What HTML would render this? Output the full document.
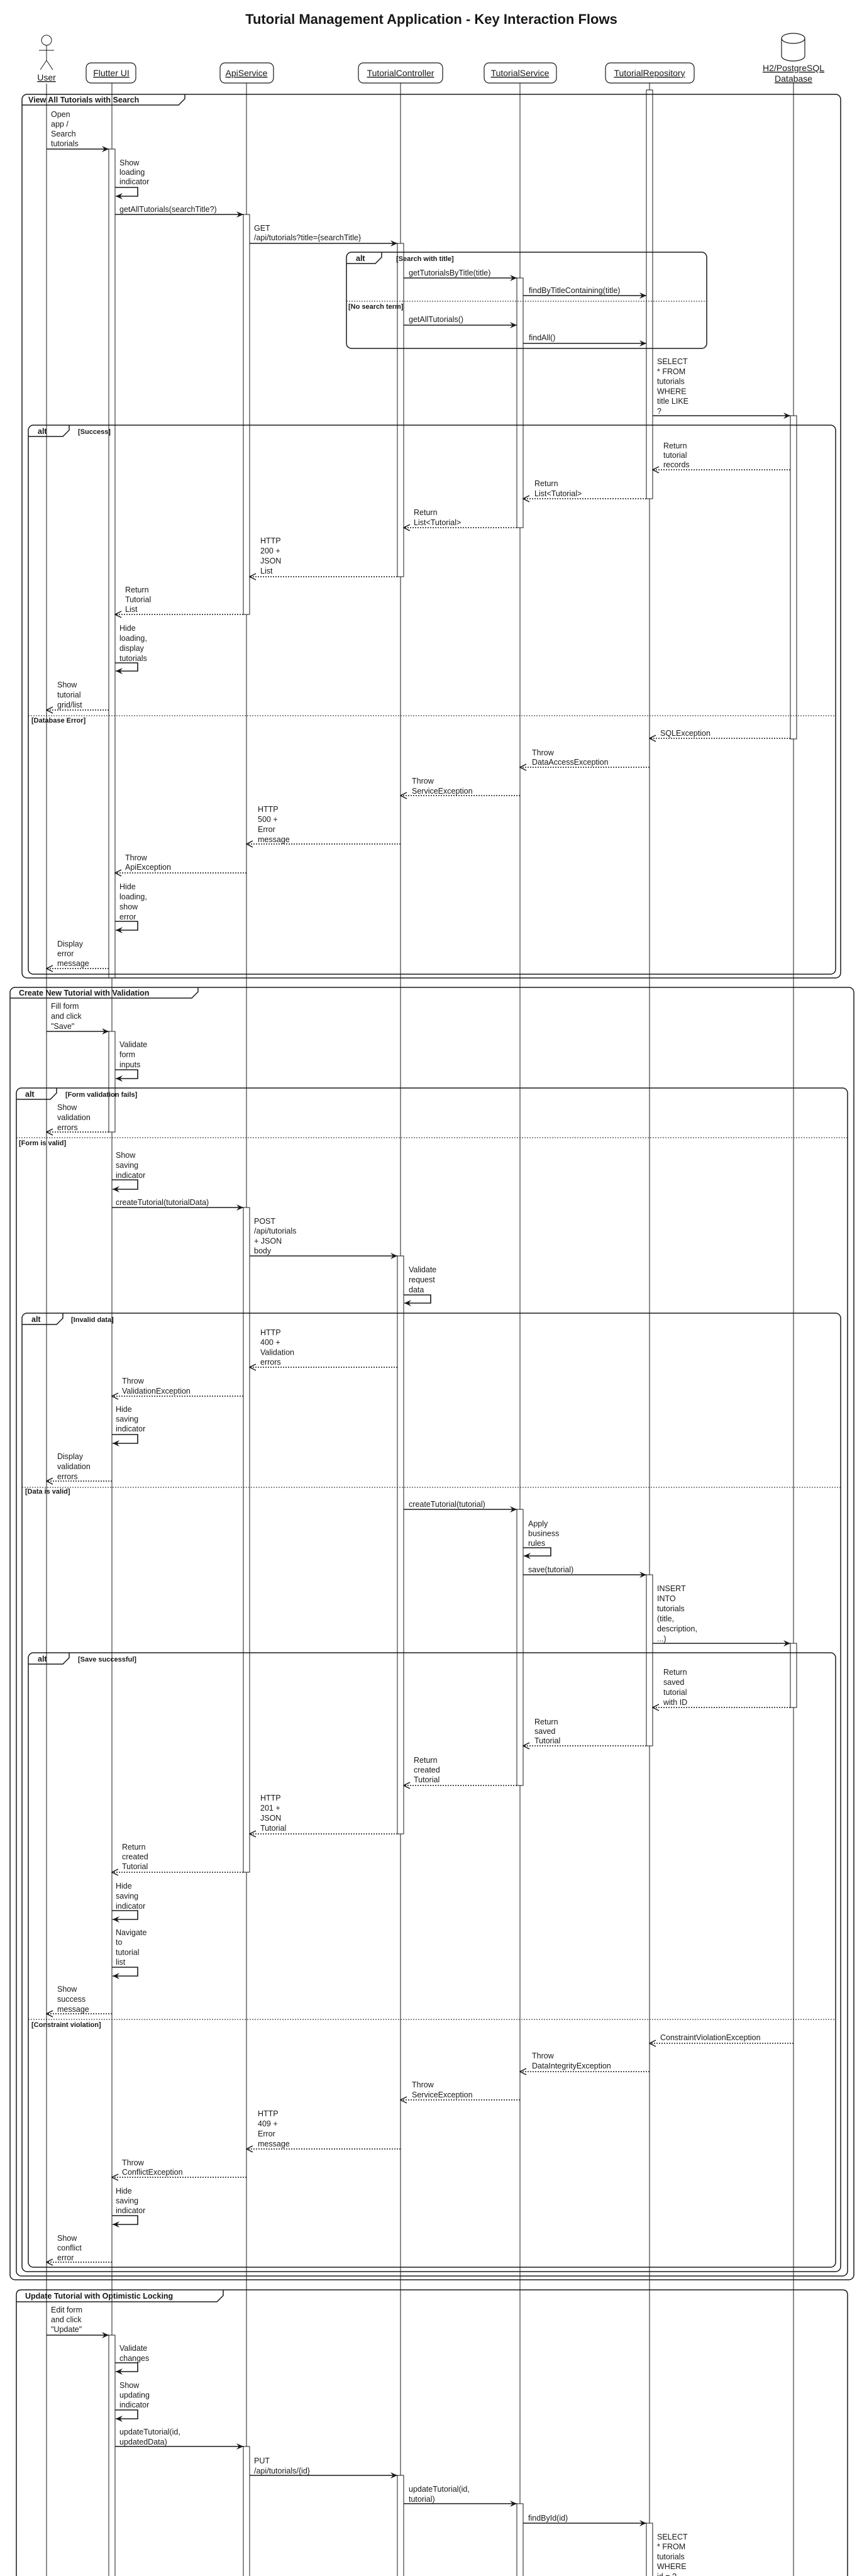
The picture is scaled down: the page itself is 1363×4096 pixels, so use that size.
<!DOCTYPE html>
<html><head><meta charset="utf-8">
<style>
html,body{margin:0;padding:0;background:#fff}
svg{display:block}
text{font-family:"Liberation Sans",sans-serif;font-size:12.5px;fill:#181818}
.t{font-size:22px;font-weight:bold}
.p{font-size:14px;text-decoration:underline}
.fb{font-size:12.5px;font-weight:bold}
.gl{font-size:11px;font-weight:bold}
.ll{stroke:#181818;stroke-width:1}
.act{fill:#fff;stroke:#181818;stroke-width:1}
.fr{fill:none;stroke:#181818;stroke-width:1.5}
.sep{stroke:#181818;stroke-width:1;stroke-dasharray:2,2}
.s{stroke:#181818;stroke-width:1.6;marker-end:url(#a)}
.d{stroke:#181818;stroke-width:1.4;stroke-dasharray:2,2;marker-end:url(#o)}
.lp{fill:none;stroke:#181818;stroke-width:1.6;marker-end:url(#a)}
</style></head><body>
<svg width="1363" height="4096" viewBox="0 0 1363 4096" xmlns="http://www.w3.org/2000/svg">
<defs>
<marker id="a" markerUnits="userSpaceOnUse" markerWidth="12" markerHeight="10" refX="11" refY="5" orient="auto"><path d="M0,0 L11,5 L0,10 L4,5 z" fill="#181818"/></marker>
<marker id="o" markerUnits="userSpaceOnUse" markerWidth="12" markerHeight="12" refX="11" refY="6" orient="auto"><path d="M1,1 L11,6 L1,11" fill="none" stroke="#181818" stroke-width="1.5"/></marker>
</defs>

<text class="t" x="686" y="38" text-anchor="middle">Tutorial Management Application - Key Interaction Flows</text>

<!-- lifelines -->
<line class="ll" x1="74" y1="133" x2="74" y2="4096"/>
<line class="ll" x1="178" y1="132" x2="178" y2="4096"/>
<line class="ll" x1="392" y1="132" x2="392" y2="4096"/>
<line class="ll" x1="637" y1="132" x2="637" y2="4096"/>
<line class="ll" x1="827" y1="132" x2="827" y2="4096"/>
<line class="ll" x1="1033" y1="132" x2="1033" y2="4096"/>
<line class="ll" x1="1262" y1="132" x2="1262" y2="4096"/>

<!-- participants -->
<circle cx="74" cy="64" r="8" fill="#fff" stroke="#181818"/>
<line class="ll" x1="74" y1="72" x2="74" y2="96"/>
<line class="ll" x1="62" y1="80" x2="86" y2="80"/>
<line class="ll" x1="74" y1="96" x2="64" y2="111"/>
<line class="ll" x1="74" y1="96" x2="84" y2="111"/>
<text class="p" x="74" y="128" text-anchor="middle">User</text>
<rect x="137" y="100" width="79" height="32" rx="8" fill="#fff" stroke="#181818" stroke-width="1.2"/>
<text class="p" x="177" y="121" text-anchor="middle">Flutter UI</text>
<rect x="350" y="100" width="85" height="32" rx="8" fill="#fff" stroke="#181818" stroke-width="1.2"/>
<text class="p" x="392" y="121" text-anchor="middle">ApiService</text>
<rect x="570" y="100" width="134" height="32" rx="8" fill="#fff" stroke="#181818" stroke-width="1.2"/>
<text class="p" x="637" y="121" text-anchor="middle">TutorialController</text>
<rect x="770" y="100" width="115" height="32" rx="8" fill="#fff" stroke="#181818" stroke-width="1.2"/>
<text class="p" x="827" y="121" text-anchor="middle">TutorialService</text>
<rect x="963" y="100" width="141" height="32" rx="8" fill="#fff" stroke="#181818" stroke-width="1.2"/>
<text class="p" x="1033" y="121" text-anchor="middle">TutorialRepository</text>
<path d="M1243,61 a18.5,8 0 0 1 37,0 V89 a18.5,8 0 0 1 -37,0 Z" fill="#fff" stroke="#181818" stroke-width="1.2"/>
<path d="M1243,61 a18.5,8 0 0 0 37,0" fill="none" stroke="#181818" stroke-width="1.2"/>
<text class="p" x="1262" y="113" text-anchor="middle">H2/PostgreSQL</text>
<text class="p" x="1262" y="130" text-anchor="middle">Database</text>

<!-- activations -->
<rect class="act" x="173" y="237" width="10" height="1318"/>
<rect class="act" x="173" y="1640" width="10" height="160"/>
<rect class="act" x="173" y="3713" width="10" height="400"/>
<rect class="act" x="387" y="341" width="10" height="636"/>
<rect class="act" x="387" y="1920" width="10" height="1057"/>
<rect class="act" x="387" y="3890" width="10" height="220"/>
<rect class="act" x="632" y="387" width="10" height="530"/>
<rect class="act" x="632" y="1997" width="10" height="919"/>
<rect class="act" x="632" y="3936" width="10" height="180"/>
<rect class="act" x="822" y="442" width="10" height="397"/>
<rect class="act" x="822" y="2400" width="10" height="439"/>
<rect class="act" x="822" y="3981" width="10" height="130"/>
<rect class="act" x="1028" y="143" width="10" height="650"/>
<rect class="act" x="1028" y="2504" width="10" height="272"/>
<rect class="act" x="1028" y="4012" width="10" height="100"/>
<rect class="act" x="1257" y="661" width="10" height="514"/>
<rect class="act" x="1257" y="2613" width="10" height="102"/>

<!-- FRAME 1 -->
<rect class="fr" x="35" y="150" width="1302" height="1405" rx="8"/>
<path class="fr" d="M35,167 H284 L294,157 V150"/>
<text class="fb" x="45" y="163">View All Tutorials with Search</text>

<text x="81" y="186"><tspan x="81">Open</tspan><tspan x="81" dy="15.5">app /</tspan><tspan x="81" dy="15.5">Search</tspan><tspan x="81" dy="15.5">tutorials</tspan></text>
<line class="s" x1="74" y1="237" x2="173" y2="237"/>
<text x="190" y="263"><tspan x="190">Show</tspan><tspan x="190" dy="15">loading</tspan><tspan x="190" dy="15">indicator</tspan></text>
<path class="lp" d="M183,298 H219 V312 H184"/>
<text x="190" y="337">getAllTutorials(searchTitle?)</text>
<line class="s" x1="183" y1="341" x2="387" y2="341"/>
<text x="404" y="367"><tspan x="404">GET</tspan><tspan x="404" dy="15">/api/tutorials?title={searchTitle}</tspan></text>
<line class="s" x1="397" y1="387" x2="632" y2="387"/>

<rect class="fr" x="551" y="401" width="573" height="153" rx="8"/>
<path class="fr" d="M551,419 H597 L607,409 V401"/>
<text class="fb" x="566" y="415">alt</text>
<text class="gl" x="630" y="415">[Search with title]</text>
<text x="650" y="438">getTutorialsByTitle(title)</text>
<line class="s" x1="642" y1="442" x2="822" y2="442"/>
<text x="841" y="466">findByTitleContaining(title)</text>
<line class="s" x1="832" y1="470" x2="1028" y2="470"/>
<line class="sep" x1="551" y1="479" x2="1124" y2="479"/>
<text class="gl" x="554" y="491">[No search term]</text>
<text x="650" y="512">getAllTutorials()</text>
<line class="s" x1="642" y1="517" x2="822" y2="517"/>
<text x="841" y="541">findAll()</text>
<line class="s" x1="832" y1="546" x2="1028" y2="546"/>

<text x="1045" y="579"><tspan x="1045">SELECT</tspan><tspan x="1045" dy="15.8">* FROM</tspan><tspan x="1045" dy="15.8">tutorials</tspan><tspan x="1045" dy="15.8">WHERE</tspan><tspan x="1045" dy="15.8">title LIKE</tspan><tspan x="1045" dy="15.8">?</tspan></text>
<line class="s" x1="1038" y1="661" x2="1257" y2="661"/>

<rect class="fr" x="45" y="676" width="1284" height="873" rx="8"/>
<path class="fr" d="M45,694 H100 L110,684 V676"/>
<text class="fb" x="60" y="690">alt</text>
<text class="gl" x="124" y="690">[Success]</text>

<text x="1055" y="713"><tspan x="1055">Return</tspan><tspan x="1055" dy="15">tutorial</tspan><tspan x="1055" dy="15">records</tspan></text>
<line class="d" x1="1257" y1="747" x2="1038" y2="747"/>
<text x="850" y="773"><tspan x="850">Return</tspan><tspan x="850" dy="16">List&lt;Tutorial&gt;</tspan></text>
<line class="d" x1="1028" y1="793" x2="832" y2="793"/>
<text x="658" y="819"><tspan x="658">Return</tspan><tspan x="658" dy="16">List&lt;Tutorial&gt;</tspan></text>
<line class="d" x1="822" y1="839" x2="642" y2="839"/>
<text x="414" y="864"><tspan x="414">HTTP</tspan><tspan x="414" dy="16">200 +</tspan><tspan x="414" dy="16">JSON</tspan><tspan x="414" dy="16">List</tspan></text>
<line class="d" x1="632" y1="917" x2="397" y2="917"/>
<text x="199" y="942"><tspan x="199">Return</tspan><tspan x="199" dy="15.5">Tutorial</tspan><tspan x="199" dy="15.5">List</tspan></text>
<line class="d" x1="387" y1="977" x2="183" y2="977"/>
<text x="190" y="1003"><tspan x="190">Hide</tspan><tspan x="190" dy="16">loading,</tspan><tspan x="190" dy="16">display</tspan><tspan x="190" dy="16">tutorials</tspan></text>
<path class="lp" d="M183,1054 H219 V1067 H184"/>
<text x="91" y="1093"><tspan x="91">Show</tspan><tspan x="91" dy="16">tutorial</tspan><tspan x="91" dy="16">grid/list</tspan></text>
<line class="d" x1="173" y1="1129" x2="74" y2="1129"/>
<line class="sep" x1="45" y1="1138" x2="1329" y2="1138"/>
<text class="gl" x="50" y="1149">[Database Error]</text>
<text x="1050" y="1170">SQLException</text>
<line class="d" x1="1257" y1="1174" x2="1033" y2="1174"/>
<text x="846" y="1201"><tspan x="846">Throw</tspan><tspan x="846" dy="15">DataAccessException</tspan></text>
<line class="d" x1="1033" y1="1220" x2="827" y2="1220"/>
<text x="655" y="1246"><tspan x="655">Throw</tspan><tspan x="655" dy="16">ServiceException</tspan></text>
<line class="d" x1="827" y1="1265" x2="637" y2="1265"/>
<text x="410" y="1291"><tspan x="410">HTTP</tspan><tspan x="410" dy="16">500 +</tspan><tspan x="410" dy="16">Error</tspan><tspan x="410" dy="16">message</tspan></text>
<line class="d" x1="637" y1="1342" x2="392" y2="1342"/>
<text x="199" y="1368"><tspan x="199">Throw</tspan><tspan x="199" dy="15">ApiException</tspan></text>
<line class="d" x1="392" y1="1388" x2="183" y2="1388"/>
<text x="190" y="1414"><tspan x="190">Hide</tspan><tspan x="190" dy="16">loading,</tspan><tspan x="190" dy="16">show</tspan><tspan x="190" dy="16">error</tspan></text>
<path class="lp" d="M183,1465 H219 V1479 H184"/>
<text x="91" y="1505"><tspan x="91">Display</tspan><tspan x="91" dy="15.5">error</tspan><tspan x="91" dy="15.5">message</tspan></text>
<line class="d" x1="173" y1="1540" x2="74" y2="1540"/>

<!-- FRAME 2 -->
<rect class="fr" x="16" y="1570" width="1342" height="2055" rx="8"/>
<path class="fr" d="M16,1587 H305 L315,1577 V1570"/>
<text class="fb" x="30" y="1583">Create New Tutorial with Validation</text>
<text x="81" y="1604"><tspan x="81">Fill form</tspan><tspan x="81" dy="16">and click</tspan><tspan x="81" dy="16">"Save"</tspan></text>
<line class="s" x1="74" y1="1640" x2="173" y2="1640"/>
<text x="190" y="1665"><tspan x="190">Validate</tspan><tspan x="190" dy="16">form</tspan><tspan x="190" dy="16">inputs</tspan></text>
<path class="lp" d="M183,1701 H219 V1715 H184"/>

<rect class="fr" x="26" y="1730" width="1322" height="1889" rx="8"/>
<path class="fr" d="M26,1748 H80 L90,1738 V1730"/>
<text class="fb" x="40" y="1744">alt</text>
<text class="gl" x="104" y="1744">[Form validation fails]</text>
<text x="91" y="1765"><tspan x="91">Show</tspan><tspan x="91" dy="16">validation</tspan><tspan x="91" dy="16">errors</tspan></text>
<line class="d" x1="173" y1="1800" x2="74" y2="1800"/>
<line class="sep" x1="26" y1="1809" x2="1348" y2="1809"/>
<text class="gl" x="30" y="1821">[Form is valid]</text>
<text x="184" y="1841"><tspan x="184">Show</tspan><tspan x="184" dy="16">saving</tspan><tspan x="184" dy="16">indicator</tspan></text>
<path class="lp" d="M178,1876 H219 V1891 H179"/>
<text x="184" y="1916">createTutorial(tutorialData)</text>
<line class="s" x1="178" y1="1920" x2="387" y2="1920"/>
<text x="404" y="1946"><tspan x="404">POST</tspan><tspan x="404" dy="15.7">/api/tutorials</tspan><tspan x="404" dy="15.7">+ JSON</tspan><tspan x="404" dy="15.7">body</tspan></text>
<line class="s" x1="397" y1="1997" x2="632" y2="1997"/>
<text x="650" y="2023"><tspan x="650">Validate</tspan><tspan x="650" dy="16">request</tspan><tspan x="650" dy="16">data</tspan></text>
<path class="lp" d="M642,2059 H685 V2072 H643"/>

<rect class="fr" x="35" y="2088" width="1302" height="1524" rx="8"/>
<path class="fr" d="M35,2106 H90 L100,2096 V2088"/>
<text class="fb" x="50" y="2102">alt</text>
<text class="gl" x="113" y="2102">[Invalid data]</text>
<text x="414" y="2123"><tspan x="414">HTTP</tspan><tspan x="414" dy="15.7">400 +</tspan><tspan x="414" dy="15.7">Validation</tspan><tspan x="414" dy="15.7">errors</tspan></text>
<line class="d" x1="632" y1="2174" x2="397" y2="2174"/>
<text x="194" y="2200"><tspan x="194">Throw</tspan><tspan x="194" dy="16">ValidationException</tspan></text>
<line class="d" x1="387" y1="2220" x2="178" y2="2220"/>
<text x="184" y="2245"><tspan x="184">Hide</tspan><tspan x="184" dy="15.5">saving</tspan><tspan x="184" dy="15.5">indicator</tspan></text>
<path class="lp" d="M178,2281 H219 V2295 H179"/>
<text x="91" y="2320"><tspan x="91">Display</tspan><tspan x="91" dy="16">validation</tspan><tspan x="91" dy="16">errors</tspan></text>
<line class="d" x1="178" y1="2355" x2="74" y2="2355"/>
<line class="sep" x1="35" y1="2365" x2="1337" y2="2365"/>
<text class="gl" x="40" y="2375">[Data is valid]</text>
<text x="650" y="2396">createTutorial(tutorial)</text>
<line class="s" x1="642" y1="2400" x2="822" y2="2400"/>
<text x="840" y="2427"><tspan x="840">Apply</tspan><tspan x="840" dy="15.5">business</tspan><tspan x="840" dy="15.5">rules</tspan></text>
<path class="lp" d="M832,2461 H876 V2474 H833"/>
<text x="840" y="2500">save(tutorial)</text>
<line class="s" x1="832" y1="2504" x2="1028" y2="2504"/>
<text x="1045" y="2530"><tspan x="1045">INSERT</tspan><tspan x="1045" dy="16">INTO</tspan><tspan x="1045" dy="16">tutorials</tspan><tspan x="1045" dy="16">(title,</tspan><tspan x="1045" dy="16">description,</tspan><tspan x="1045" dy="16">...)</tspan></text>
<line class="s" x1="1038" y1="2613" x2="1257" y2="2613"/>

<rect class="fr" x="45" y="2628" width="1284" height="977" rx="8"/>
<path class="fr" d="M45,2646 H100 L110,2636 V2628"/>
<text class="fb" x="60" y="2642">alt</text>
<text class="gl" x="124" y="2642">[Save successful]</text>
<text x="1055" y="2663"><tspan x="1055">Return</tspan><tspan x="1055" dy="16">saved</tspan><tspan x="1055" dy="16">tutorial</tspan><tspan x="1055" dy="16">with ID</tspan></text>
<line class="d" x1="1257" y1="2715" x2="1038" y2="2715"/>
<text x="850" y="2742"><tspan x="850">Return</tspan><tspan x="850" dy="15">saved</tspan><tspan x="850" dy="15">Tutorial</tspan></text>
<line class="d" x1="1028" y1="2776" x2="832" y2="2776"/>
<text x="658" y="2803"><tspan x="658">Return</tspan><tspan x="658" dy="15.5">created</tspan><tspan x="658" dy="15.5">Tutorial</tspan></text>
<line class="d" x1="822" y1="2839" x2="642" y2="2839"/>
<text x="414" y="2863"><tspan x="414">HTTP</tspan><tspan x="414" dy="16">201 +</tspan><tspan x="414" dy="16">JSON</tspan><tspan x="414" dy="16">Tutorial</tspan></text>
<line class="d" x1="632" y1="2916" x2="397" y2="2916"/>
<text x="194" y="2941"><tspan x="194">Return</tspan><tspan x="194" dy="15.5">created</tspan><tspan x="194" dy="15.5">Tutorial</tspan></text>
<line class="d" x1="387" y1="2977" x2="178" y2="2977"/>
<text x="184" y="3003"><tspan x="184">Hide</tspan><tspan x="184" dy="16">saving</tspan><tspan x="184" dy="16">indicator</tspan></text>
<path class="lp" d="M178,3038 H219 V3052 H179"/>
<text x="184" y="3077"><tspan x="184">Navigate</tspan><tspan x="184" dy="15.7">to</tspan><tspan x="184" dy="15.7">tutorial</tspan><tspan x="184" dy="15.7">list</tspan></text>
<path class="lp" d="M178,3128 H219 V3142 H179"/>
<text x="91" y="3167"><tspan x="91">Show</tspan><tspan x="91" dy="16">success</tspan><tspan x="91" dy="16">message</tspan></text>
<line class="d" x1="178" y1="3202" x2="74" y2="3202"/>
<line class="sep" x1="45" y1="3211" x2="1329" y2="3211"/>
<text class="gl" x="50" y="3223">[Constraint violation]</text>
<text x="1050" y="3244">ConstraintViolationException</text>
<line class="d" x1="1262" y1="3249" x2="1033" y2="3249"/>
<text x="846" y="3273"><tspan x="846">Throw</tspan><tspan x="846" dy="16">DataIntegrityException</tspan></text>
<line class="d" x1="1033" y1="3294" x2="827" y2="3294"/>
<text x="655" y="3319"><tspan x="655">Throw</tspan><tspan x="655" dy="16">ServiceException</tspan></text>
<line class="d" x1="827" y1="3339" x2="637" y2="3339"/>
<text x="410" y="3365"><tspan x="410">HTTP</tspan><tspan x="410" dy="16">409 +</tspan><tspan x="410" dy="16">Error</tspan><tspan x="410" dy="16">message</tspan></text>
<line class="d" x1="637" y1="3417" x2="392" y2="3417"/>
<text x="194" y="3443"><tspan x="194">Throw</tspan><tspan x="194" dy="15">ConflictException</tspan></text>
<line class="d" x1="392" y1="3462" x2="178" y2="3462"/>
<text x="184" y="3488"><tspan x="184">Hide</tspan><tspan x="184" dy="15.5">saving</tspan><tspan x="184" dy="15.5">indicator</tspan></text>
<path class="lp" d="M178,3523 H219 V3537 H179"/>
<text x="91" y="3563"><tspan x="91">Show</tspan><tspan x="91" dy="15.5">conflict</tspan><tspan x="91" dy="15.5">error</tspan></text>
<line class="d" x1="178" y1="3597" x2="74" y2="3597"/>

<!-- FRAME 3 -->
<path class="fr" d="M26,4100 V3649 Q26,3641 34,3641 H1340 Q1348,3641 1348,3649 V4100"/>
<path class="fr" d="M26,3660 H345 L355,3650 V3641"/>
<text class="fb" x="40" y="3655">Update Tutorial with Optimistic Locking</text>
<text x="81" y="3677"><tspan x="81">Edit form</tspan><tspan x="81" dy="15.5">and click</tspan><tspan x="81" dy="15.5">"Update"</tspan></text>
<line class="s" x1="74" y1="3713" x2="173" y2="3713"/>
<text x="190" y="3738"><tspan x="190">Validate</tspan><tspan x="190" dy="16">changes</tspan></text>
<path class="lp" d="M183,3757 H219 V3771 H184"/>
<text x="190" y="3797"><tspan x="190">Show</tspan><tspan x="190" dy="15.5">updating</tspan><tspan x="190" dy="15.5">indicator</tspan></text>
<path class="lp" d="M183,3832 H219 V3846 H184"/>
<text x="190" y="3871"><tspan x="190">updateTutorial(id,</tspan><tspan x="190" dy="16">updatedData)</tspan></text>
<line class="s" x1="183" y1="3890" x2="387" y2="3890"/>
<text x="404" y="3917"><tspan x="404">PUT</tspan><tspan x="404" dy="16">/api/tutorials/{id}</tspan></text>
<line class="s" x1="397" y1="3936" x2="632" y2="3936"/>
<text x="650" y="3962"><tspan x="650">updateTutorial(id,</tspan><tspan x="650" dy="16">tutorial)</tspan></text>
<line class="s" x1="642" y1="3981" x2="822" y2="3981"/>
<text x="840" y="4008">findById(id)</text>
<line class="s" x1="832" y1="4012" x2="1028" y2="4012"/>
<text x="1045" y="4038"><tspan x="1045">SELECT</tspan><tspan x="1045" dy="15.7">* FROM</tspan><tspan x="1045" dy="15.7">tutorials</tspan><tspan x="1045" dy="15.7">WHERE</tspan><tspan x="1045" dy="15.7">id = ?</tspan></text>
</svg>
</body></html>
